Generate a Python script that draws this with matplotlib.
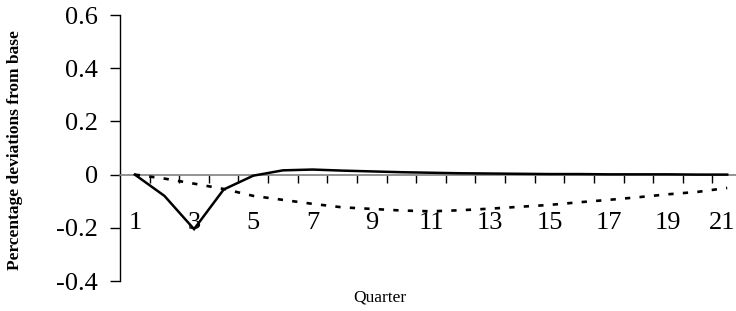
import matplotlib
matplotlib.use("Agg")
import matplotlib.pyplot as plt
import matplotlib.transforms as mtransforms
import numpy as np

quarters = list(range(1, 22))
solid = [0, -0.08, -0.205, -0.056, -0.004, 0.016, 0.019, 0.015, 0.012, 0.009, 0.007,
         0.005, 0.004, 0.003, 0.002, 0.002, 0.001, 0.001, 0.001, 0.0, 0.0]
dotted = [0, -0.015, -0.034, -0.054, -0.08, -0.095, -0.11, -0.123, -0.129, -0.135, -0.138,
          -0.134, -0.128, -0.121, -0.114, -0.104, -0.095, -0.085, -0.074, -0.065, -0.05]
yticks = [-0.4, -0.2, 0, 0.2, 0.4, 0.6]
ytick_labels = ["-0.4", "-0.2", "0", "0.2", "0.4", "0.6"]
xtick_vals = list(range(1, 22, 2))
xtick_labels = [str(v) for v in xtick_vals]

plt.rcParams['font.family'] = ['Liberation Serif', 'DejaVu Serif']

fig = plt.figure(figsize=(7.36, 3.11), dpi=100)
ax = fig.add_axes([120/736, 1-281/311, (742-120)/736, (281-15)/311])

ax.plot(quarters, solid, color='black', lw=1.8, solid_joinstyle='miter', zorder=3)
ax.plot(quarters, dotted, color='black', lw=1.9, dashes=(2, 3.5), zorder=3)

ax.set_xlim(0.5, 21.5)
ax.set_ylim(-0.4, 0.6)

for s in ['top', 'right']:
    ax.spines[s].set_visible(False)
ax.spines['left'].set_color('black')
ax.spines['left'].set_linewidth(1.0)
ax.spines['bottom'].set_position(('data', 0))
ax.spines['bottom'].set_color('#808080')
ax.spines['bottom'].set_linewidth(1.2)

ax.set_yticks(yticks)
ax.set_yticklabels(ytick_labels, fontsize=19)
ax.tick_params(axis='y', direction='out', length=7, width=1.0, pad=9, color='black')

ax.set_xticks(xtick_vals)
ax.set_xticklabels(xtick_labels, fontsize=19)
ax.tick_params(axis='x', which='major', length=0, pad=27)
ax.set_xticks(np.arange(1.5, 21.5, 1.0), minor=True)
ax.tick_params(axis='x', which='minor', direction='out', length=6, width=1.0, color='black')

last = ax.get_xticklabels()[-1]
last.set_transform(last.get_transform() + mtransforms.ScaledTranslation(-5/100, 0, fig.dpi_scale_trans))

fig.text(15/736, 1-150/311, "Percentage deviations from base", rotation=90,
         ha='center', va='center', fontsize=12.5, fontweight='bold')
fig.text(380/736, 1-298/311, "Quarter", ha='center', va='center', fontsize=12.5)

fig.savefig("out.png", dpi=100)
